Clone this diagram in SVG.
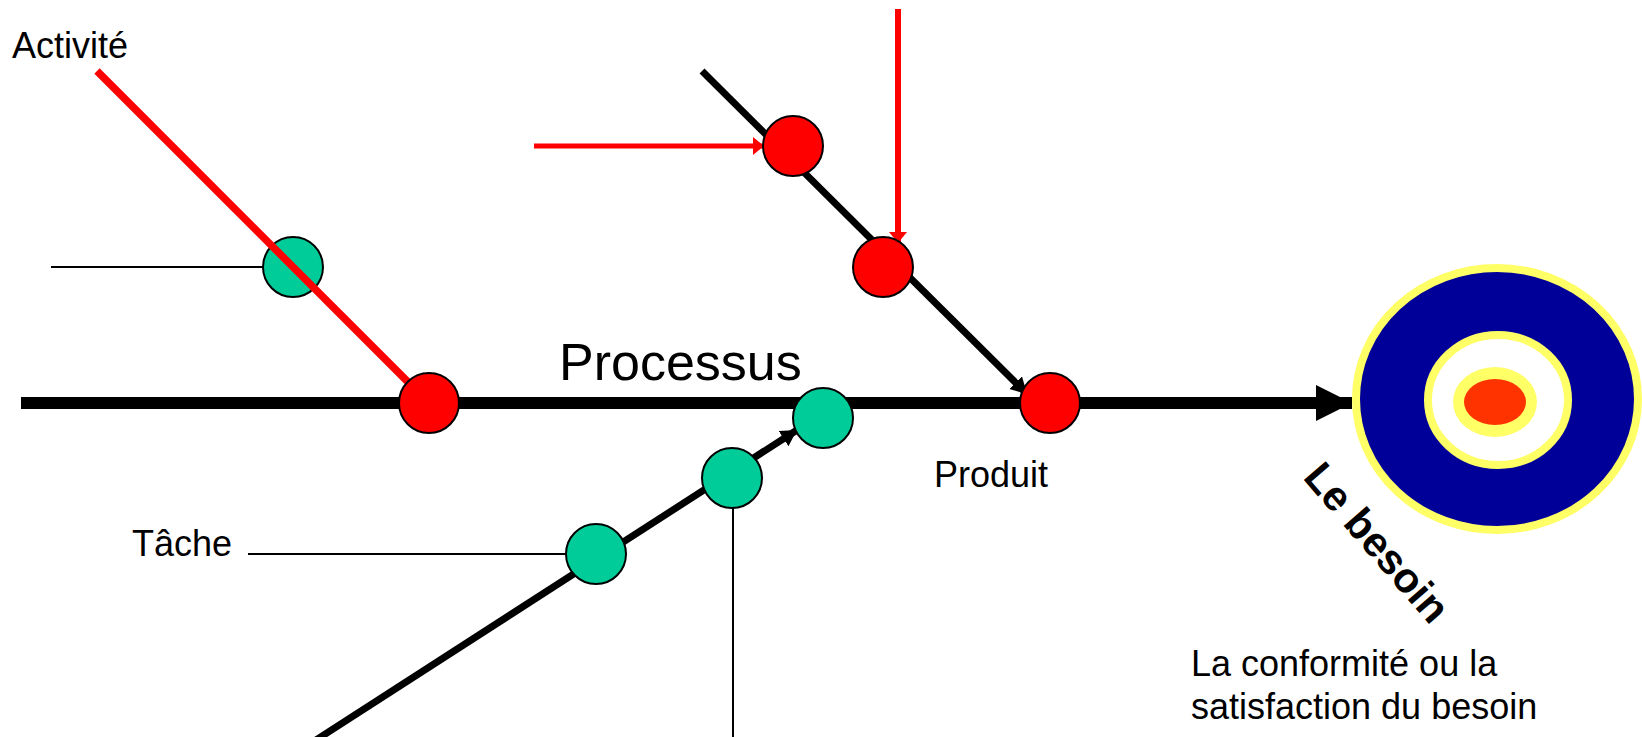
<svg xmlns="http://www.w3.org/2000/svg" width="1642" height="737" viewBox="0 0 1642 737">
<style>
text{font-family:"Liberation Sans",Arial,sans-serif;fill:#000}
.lbl{font-size:36px}
.red{fill:#FF0000;stroke:#000;stroke-width:2}
.grn{fill:#00CC99;stroke:#000;stroke-width:2}
.thin{stroke:#000;stroke-width:2;fill:none}
</style>
<defs>
<marker id="ahBig" markerUnits="userSpaceOnUse" markerWidth="40" markerHeight="40" refX="36" refY="18" orient="auto" viewBox="0 0 40 40"><path d="M0,0 L36,18 L0,36 Z" fill="#000"/></marker>
<marker id="ahBlk" markerUnits="userSpaceOnUse" markerWidth="20" markerHeight="20" refX="16" refY="9" orient="auto" viewBox="0 0 20 20"><path d="M0,0 L16,9 L0,18 Z" fill="#000"/></marker>
<marker id="ahRed" markerUnits="userSpaceOnUse" markerWidth="20" markerHeight="20" refX="11" refY="9" orient="auto" viewBox="0 0 20 20"><path d="M0,0 L11,9 L0,18 Z" fill="#FF0000"/></marker>
</defs>
<g id="connectors">
<line x1="21" y1="403" x2="1352" y2="403" stroke="#000" stroke-width="12" marker-end="url(#ahBig)"/>
<line x1="702" y1="71" x2="1027" y2="394" stroke="#000" stroke-width="7" marker-end="url(#ahBlk)"/>
<line x1="316" y1="740" x2="797" y2="430" stroke="#000" stroke-width="7" marker-end="url(#ahBlk)"/>
<line x1="534" y1="146" x2="764" y2="146" stroke="#FF0000" stroke-width="5" marker-end="url(#ahRed)"/>
<line x1="898" y1="9" x2="898" y2="243" stroke="#FF0000" stroke-width="6" marker-end="url(#ahRed)"/>
<line class="thin" x1="51" y1="267" x2="264" y2="267"/>
<line class="thin" x1="248" y1="554" x2="566" y2="554"/>
<line class="thin" x1="733" y1="508" x2="733" y2="737"/>
</g>
<g id="node-activite-task">
<circle class="grn" cx="293" cy="267" r="30"/>
</g>
<g id="connector-activite">
<line x1="97" y1="71" x2="410" y2="384" stroke="#FF0000" stroke-width="7.5"/>
</g>
<g id="node-activite">
<circle class="red" cx="429" cy="403" r="30"/>
</g>
<g id="node-red1"><circle class="red" cx="793" cy="146" r="30"/></g>
<g id="node-red2"><circle class="red" cx="883" cy="267" r="30"/></g>
<g id="node-produit"><circle class="red" cx="1050" cy="403" r="30"/></g>
<g id="node-green-a"><circle class="grn" cx="823" cy="418" r="30"/></g>
<g id="node-green-b"><circle class="grn" cx="732" cy="478" r="30"/></g>
<g id="node-tache"><circle class="grn" cx="596" cy="554" r="30"/></g>
<g id="node-target">
<ellipse cx="1497" cy="399" rx="141" ry="131" fill="#000099" stroke="#FFFF66" stroke-width="8"/>
<ellipse cx="1498" cy="400" rx="70" ry="65" fill="#FFFFFF" stroke="#FFFF66" stroke-width="8"/>
<ellipse cx="1495" cy="402" rx="42" ry="35" fill="#FFFF66"/>
<ellipse cx="1495" cy="402" rx="31" ry="23" fill="#FF3300"/>
</g>
<g id="labels">
<text class="lbl" x="12" y="58">Activité</text>
<text x="559" y="380" font-size="52">Processus</text>
<text class="lbl" x="132" y="556">Tâche</text>
<text class="lbl" x="934" y="487">Produit</text>
<text x="1302" y="478" font-size="42" font-weight="bold" transform="rotate(49 1302 478)">Le besoin</text>
<text class="lbl" x="1191" y="676">La conformité ou la</text>
<text class="lbl" x="1191" y="719">satisfaction du besoin</text>
</g>
</svg>
